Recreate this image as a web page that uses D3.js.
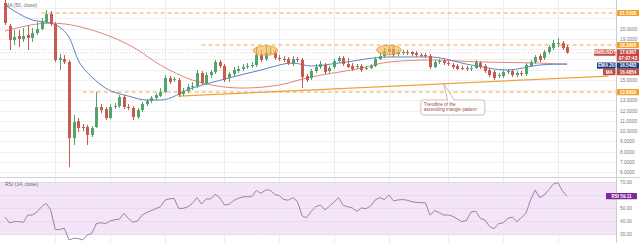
<!DOCTYPE html>
<html><head><meta charset="utf-8">
<script src="https://cdn.jsdelivr.net/npm/d3@7"></script>
<style>html,body{margin:0;padding:0;background:#fff;overflow:hidden}svg{display:block;font-family:"Liberation Sans",Arial,sans-serif}</style>
</head><body><svg id="c" width="640" height="243"></svg>
<script>
// ---------- DATA ----------
const symbol = "BNBUSDT";
const countdown = "07:07:43";
const opens = [22.49,20.24,18.88,19.27,18.97,19.36,19.07,19.56,19.95,20.63,
21.41,20.44,16.93,17.02,16.73,9.31,10.97,10.39,10.39,9.61,
10.39,12.34,12.14,11.26,12.34,12.43,13.31,12.34,12.24,11.36,
12.04,12.63,12.92,13.22,13.41,13.80,15.17,14.97,14.97,13.61,
13.90,14.29,14.39,15.66,14.68,15.46,15.75,16.73,16.34,15.17,
15.56,15.85,16.05,16.24,16.34,16.44,17.41,17.02,17.61,17.71,
17.12,17.02,17.02,16.53,17.02,16.93,15.36,15.17,15.85,16.24,
16.44,15.85,16.24,16.83,17.12,16.53,16.34,16.24,16.34,16.05,
16.14,16.34,17.02,17.31,17.71,18.00,17.51,17.61,17.71,17.71,
17.61,17.41,17.41,17.31,16.24,16.73,16.83,16.63,16.44,16.34,
16.14,16.14,16.05,16.14,16.63,16.34,15.95,15.75,15.36,15.36,
15.75,15.85,15.46,15.66,15.56,16.34,16.73,17.31,17.12,17.71,
18.10,18.49,18.58,18.19];
const closes = [20.53,18.88,19.17,18.97,19.27,19.07,19.56,19.95,20.73,21.41,
20.44,16.93,17.12,16.73,9.31,10.87,10.29,10.29,9.61,10.29,
12.34,12.04,11.26,12.34,12.43,13.31,12.34,12.24,11.36,12.04,
12.63,12.92,13.22,13.51,13.80,15.17,14.78,15.07,13.51,13.90,
14.29,14.39,15.66,14.68,15.46,15.75,16.73,16.34,14.97,15.56,
15.95,16.05,16.24,16.34,16.44,17.41,16.93,17.61,17.71,17.12,
17.02,16.93,16.63,17.02,16.93,15.27,14.97,15.85,16.24,16.53,
15.75,16.14,16.83,17.12,16.53,16.24,16.05,16.34,15.95,16.14,
16.34,17.02,17.31,17.80,18.00,17.41,17.71,17.71,17.61,17.51,
17.41,17.37,17.31,16.24,16.73,16.83,16.63,16.53,16.24,16.05,
16.10,16.05,16.14,16.73,16.24,15.85,15.46,15.17,15.46,15.75,
15.85,15.46,15.66,15.56,16.44,16.73,17.22,16.93,17.71,18.19,
18.58,18.58,18.10,17.6367];
const highs = [22.9,20.44,19.85,19.85,20.05,20.34,20.05,20.63,21.02,21.80,
21.71,20.63,17.51,17.41,16.93,11.56,11.26,10.68,10.58,10.48,
13.80,12.63,12.34,12.63,12.73,13.51,13.51,12.63,12.43,12.24,
12.83,13.12,13.41,13.70,14.19,15.46,15.36,15.27,15.17,14.19,
14.58,14.78,15.95,15.85,15.75,15.95,16.93,16.93,16.53,15.75,
16.24,16.34,16.53,16.63,16.73,18.19,17.90,18.39,18.19,17.90,
17.41,17.31,17.22,17.31,17.22,17.12,15.56,16.05,16.53,16.83,
16.63,16.34,17.02,17.31,17.31,17.12,16.63,16.53,16.53,16.34,
16.53,17.22,17.71,18.10,18.29,18.29,17.90,17.90,17.90,17.80,
17.80,17.61,17.61,17.51,16.93,17.02,17.02,16.83,16.63,16.53,
16.34,16.34,16.34,16.93,16.83,16.53,16.14,15.95,15.66,15.95,
16.05,16.05,15.85,15.85,16.63,16.93,17.41,17.51,17.90,18.39,
18.88,19.07,18.78,18.39];
const lows = [20.34,17.90,18.39,18.19,18.68,17.90,18.68,19.36,19.85,20.44,
20.24,16.73,15.95,16.53,6.48,8.63,9.90,10.00,8.63,9.41,
10.29,11.75,11.07,11.17,12.14,12.24,12.14,12.04,11.07,11.17,
11.85,12.43,12.73,13.02,13.31,13.70,14.58,14.78,13.31,13.41,
13.70,14.00,14.19,14.49,14.49,15.17,15.56,16.14,14.78,14.78,
15.36,15.66,15.85,16.05,16.14,16.24,16.73,16.83,17.41,16.93,
16.83,16.73,16.44,16.34,16.73,14.19,14.78,14.97,15.66,16.05,
15.56,15.66,16.05,16.63,16.34,16.14,15.85,16.05,15.75,15.95,
16.05,16.24,16.93,17.12,17.41,17.22,17.31,17.41,17.41,17.31,
17.22,17.22,17.12,16.05,16.14,16.53,16.44,16.34,16.05,15.95,
15.95,15.85,15.85,16.05,16.05,15.66,15.27,14.97,15.17,15.17,
15.56,15.27,15.27,15.36,15.36,16.24,16.53,16.73,16.93,17.51,
17.90,18.19,17.90,17.55];
const rsiValues = [43,38.5,39.5,39.5,39,44.6,44.6,47,51,53.6,
48.5,33.5,33.5,34.4,25.4,26.7,26.5,25.4,29.2,30.5,
38,38.7,38,40,41,41.3,45.9,42,39,40,
44.5,46.5,48,49.5,51,56,57,57.4,49.7,49.7,
51,53.5,58,53,57,57,60.5,58,52.3,52.8,
55.6,57.4,58.5,58.7,58.7,63.5,61.3,63.8,63.8,60.5,
59.5,56.5,56,58,55,44,42.5,47.5,51,52.3,
48.5,51.5,54.5,58,52,51,50,47.5,50,49.5,
51.5,56.2,58,56.5,60,55.5,56.2,56.5,56,54.9,
54.3,54.1,54,44.5,48,46.5,44.6,44.6,43.6,41.5,
39.5,40.5,47,47.5,42.1,40.8,36,34,38,38.5,
42,43,39.5,42.5,46,56.2,63.8,58,60,64,
68.5,69.5,63,59.11];
const ma20Idx = [0,6,10,14,16,19,22,27,31,34,41,49,56,63,67,73,84,93,102,110,117,123];
const ma20Val = [22.29,20.83,20.53,19.17,16.93,15.27,14.19,13.41,13.02,13.02,14.19,15.17,15.95,16.63,16.34,16.63,17.22,17.22,16.44,15.95,16.44,16.5483];
const ma50Idx = [0,10,21,28,34,41,52,60,66,78,84,93,104,117,123];
const ma50Val = [19.75,20.53,19.56,18.19,16.44,14.97,14.19,14.49,15.17,16.14,16.73,16.93,16.73,16.63,16.4854];
const priceTicks = [6,7,8,9,10,11,12,13,14,15,16,17,18,19,20,21,22];
const rsiTicks = [30,40,50,60,70];
const levelVals = [21.51, 18.39, 13.80];
const levelStart = [8, 43, 17];
const trendIdx = [38, 132];
const trendVal = [13.40, 15.36];
const highlightIdx = [57, 84];
const highlightVal = [17.85, 17.9];
const gridIdx = [11,23,35,48,60,72,84,97,109,121];
const noteLines = ["Trendline of the", "ascending triangle pattern"];

// ---------- CHART ----------
const PR = 616;
const svg = d3.select("#c");
const x = d3.scaleLinear().domain([-1.1, 133.7]).range([0, PR]);
const y = d3.scaleLinear().domain([6, 22]).range([172, 8]);
const yr = d3.scaleLinear().domain([30, 70]).range([234, 182]);
const up = "#53a46c", down = "#c85a4e";

const defs = svg.append("defs");
defs.append("clipPath").attr("id","cm").append("rect").attr("x",0).attr("y",0).attr("width",PR).attr("height",177);
defs.append("clipPath").attr("id","cr").append("rect").attr("x",0).attr("y",178).attr("width",PR).attr("height",65);

// RSI band
svg.append("rect").attr("x",0).attr("y",yr(70)).attr("width",PR).attr("height",yr(30)-yr(70)).attr("fill","#f3e5f7");

// grid
svg.append("g").selectAll("line").data(gridIdx).join("line")
  .attr("x1",d=>Math.round(x(d))+0.5).attr("x2",d=>Math.round(x(d))+0.5)
  .attr("y1",0).attr("y2",243).attr("stroke","#e9ecf0").attr("stroke-width",1);
svg.append("g").attr("clip-path","url(#cm)").selectAll("line").data(priceTicks).join("line")
  .attr("x1",0).attr("x2",PR).attr("y1",d=>Math.round(y(d))+0.5).attr("y2",d=>Math.round(y(d))+0.5)
  .attr("stroke","#eef0f3");
svg.append("g").attr("clip-path","url(#cr)").selectAll("line").data(rsiTicks).join("line")
  .attr("x1",0).attr("x2",PR).attr("y1",d=>Math.round(yr(d))+0.5).attr("y2",d=>Math.round(yr(d))+0.5)
  .attr("stroke","#e6dcea");

// panel separator & axis line
svg.append("line").attr("x1",0).attr("x2",640).attr("y1",177.5).attr("y2",177.5).attr("stroke","#cfd2d6");
svg.append("line").attr("x1",PR+0.5).attr("x2",PR+0.5).attr("y1",0).attr("y2",243).attr("stroke","#c9ccd1");

const gm = svg.append("g").attr("clip-path","url(#cm)");

// dashed levels
gm.selectAll("line.lv").data(levelVals).join("line").attr("class","lv")
  .attr("x1",(d,i)=>x(levelStart[i])).attr("x2",PR)
  .attr("y1",d=>y(d)).attr("y2",d=>y(d))
  .attr("stroke","#f2a744").attr("stroke-width",1).attr("stroke-dasharray","4,3");

// trendline
gm.append("line").attr("x1",x(trendIdx[0])).attr("y1",y(trendVal[0]))
  .attr("x2",x(trendIdx[1])).attr("y2",y(trendVal[1]))
  .attr("stroke","#f0a23a").attr("stroke-width",1.3);

// MAs
const maLine = d3.line().x(d=>x(d[0])).y(d=>y(d[1])).curve(d3.curveMonotoneX);
gm.append("path").datum(ma50Idx.map((d,i)=>[d,ma50Val[i]])).attr("d",maLine)
  .attr("fill","none").attr("stroke","#e3857c").attr("stroke-width",1);
gm.append("path").datum(ma20Idx.map((d,i)=>[d,ma20Val[i]])).attr("d",maLine)
  .attr("fill","none").attr("stroke","#5f82c4").attr("stroke-width",1);

// current price line
gm.append("line").attr("x1",0).attr("x2",PR).attr("y1",y(closes[closes.length-1])).attr("y2",y(closes[closes.length-1]))
  .attr("stroke",down).attr("stroke-width",0.6).attr("stroke-dasharray","1,2").attr("opacity",0.6);

// candles
const cd = opens.map((o,i)=>({i,o,c:closes[i],h:highs[i],l:lows[i]}));
const cg = gm.append("g");
cg.selectAll("line").data(cd).join("line")
  .attr("x1",d=>Math.round(x(d.i))+0.5).attr("x2",d=>Math.round(x(d.i))+0.5)
  .attr("y1",d=>y(d.h)).attr("y2",d=>y(d.l))
  .attr("stroke",d=>d.c>=d.o?up:down).attr("stroke-width",1);
cg.selectAll("rect").data(cd).join("rect")
  .attr("x",d=>Math.round(x(d.i))-1).attr("width",3)
  .attr("y",d=>Math.min(y(d.o),y(d.c)))
  .attr("height",d=>Math.max(1,Math.abs(y(d.o)-y(d.c))))
  .attr("fill",d=>d.c>=d.o?up:down);

// highlight ellipses
gm.selectAll("ellipse").data(highlightIdx).join("ellipse")
  .attr("cx",d=>x(d)).attr("cy",(d,i)=>y(highlightVal[i]))
  .attr("rx",(d,i)=>x(d+2.7)-x(d)).attr("ry",(d,i)=>y(highlightVal[i]-0.47)-y(highlightVal[i]))
  .attr("fill","rgba(245,178,80,0.62)").attr("stroke","#e79b38").attr("stroke-width",0.8);

// annotation callout
const tipI = 96;
const tipP = trendVal[0] + (tipI-trendIdx[0])*(trendVal[1]-trendVal[0])/(trendIdx[1]-trendIdx[0]);
const bx0 = x(91), bx1 = x(105), by0 = y(13.02), by1 = y(11.56);
gm.append("rect").attr("x",bx0).attr("y",by0).attr("width",bx1-bx0).attr("height",by1-by0)
  .attr("rx",2.5).attr("fill","#fff").attr("stroke","#c9a79c").attr("stroke-width",0.8);
gm.append("path").attr("d",`M${x(tipI)+4},${by0+0.6} L${x(tipI)},${y(tipP)} L${x(tipI)+11},${by0+0.6}`)
  .attr("fill","#fff").attr("stroke","#c9a79c").attr("stroke-width",0.8);
gm.selectAll("text.note").data(noteLines).join("text").attr("class","note")
  .attr("x",bx0+3).attr("y",(d,i)=>by0+6+i*5).attr("font-size",4.6).attr("fill","#9a4b3e").text(d=>d);

// RSI line
svg.append("g").attr("clip-path","url(#cr)").append("path")
  .datum(rsiValues).attr("d",d3.line().x((d,i)=>x(i)).y(d=>yr(d)))
  .attr("fill","none").attr("stroke","#9f7fae").attr("stroke-width",1);

// legends
svg.append("text").attr("x",5).attr("y",6.5).attr("font-size",5).attr("fill","#6b6b6b").text("MA (50, close)");
svg.append("text").attr("x",5).attr("y",186).attr("font-size",5).attr("fill","#6b6b6b").text("RSI (14, close)");

// ---------- right side tags ----------
const tags = [];
const last = closes[closes.length-1];
const pY = y(last);
tags.push([pY-3.5, pY+8.5]);
const blueY = Math.max(y(ma20Val[ma20Val.length-1]), pY+8.5+4.5);
const redY = Math.max(y(ma50Val[ma50Val.length-1]), blueY+6.4);
tags.push([blueY-3.2, blueY+3.2]); tags.push([redY-3.2, redY+3.2]);
levelVals.forEach(v=>tags.push([y(v)-3.2,y(v)+3.2]));
const rsiLast = rsiValues[rsiValues.length-1];
const rsiTagY = yr(rsiLast);

// axes
const ax = svg.append("g").attr("transform",`translate(${PR},0)`)
  .call(d3.axisRight(y).tickValues(priceTicks).tickSize(0).tickPadding(4).tickFormat(d=>d.toFixed(4)));
ax.select(".domain").remove();
ax.selectAll("text").attr("font-size",4.8).attr("fill","#7a7a7a").attr("font-family","Liberation Sans, Arial, sans-serif")
  .attr("opacity",d=>tags.some(t=>y(d)>t[0]-2.2 && y(d)<t[1]+2.2)?0:1);
const axr = svg.append("g").attr("transform",`translate(${PR},0)`)
  .call(d3.axisRight(yr).tickValues(rsiTicks).tickSize(0).tickPadding(4).tickFormat(d=>d.toFixed(2)));
axr.select(".domain").remove();
axr.selectAll("text").attr("font-size",4.8).attr("fill","#7a7a7a").attr("font-family","Liberation Sans, Arial, sans-serif")
  .attr("opacity",d=>Math.abs(yr(d)-rsiTagY)<5.5?0:1);

function box(x0, yc, w, h, fill, lines, color){
  svg.append("rect").attr("x",x0).attr("y",yc-h/2).attr("width",w).attr("height",h).attr("rx",0.6).attr("fill",fill);
  lines.forEach((t,k)=>{
    svg.append("text").attr("x",x0+w/2).attr("y",yc-h/2+4.6+k*5.6).attr("text-anchor","middle")
      .attr("font-size",4.6).attr("font-weight","bold").attr("fill",color||"#fff").text(t);
  });
}
levelVals.forEach(v=>box(PR+1, y(v), 22, 6.2, "#f5a02c", [v.toFixed(4)]));
box(PR+1, pY+2.6, 22, 12, "#c9473f", [last.toFixed(4), countdown]);
box(PR-22, pY, 21.5, 6.2, "#c9473f", [symbol]);
box(PR+1, blueY, 22, 6.2, "#1f3c7a", [ma20Val[ma20Val.length-1].toFixed(4)]);
box(PR-19, blueY, 18.5, 6.2, "#1f3c7a", ["EMA 20"]);
box(PR+1, redY, 22, 6.2, "#c9473f", [ma50Val[ma50Val.length-1].toFixed(4)]);
box(PR-13, redY, 12.5, 6.2, "#c9473f", ["MA"]);
box(PR-10, rsiTagY, 31, 6.2, "#7d2a99", ["RSI  " + rsiLast.toFixed(2)]);
</script></body></html>
